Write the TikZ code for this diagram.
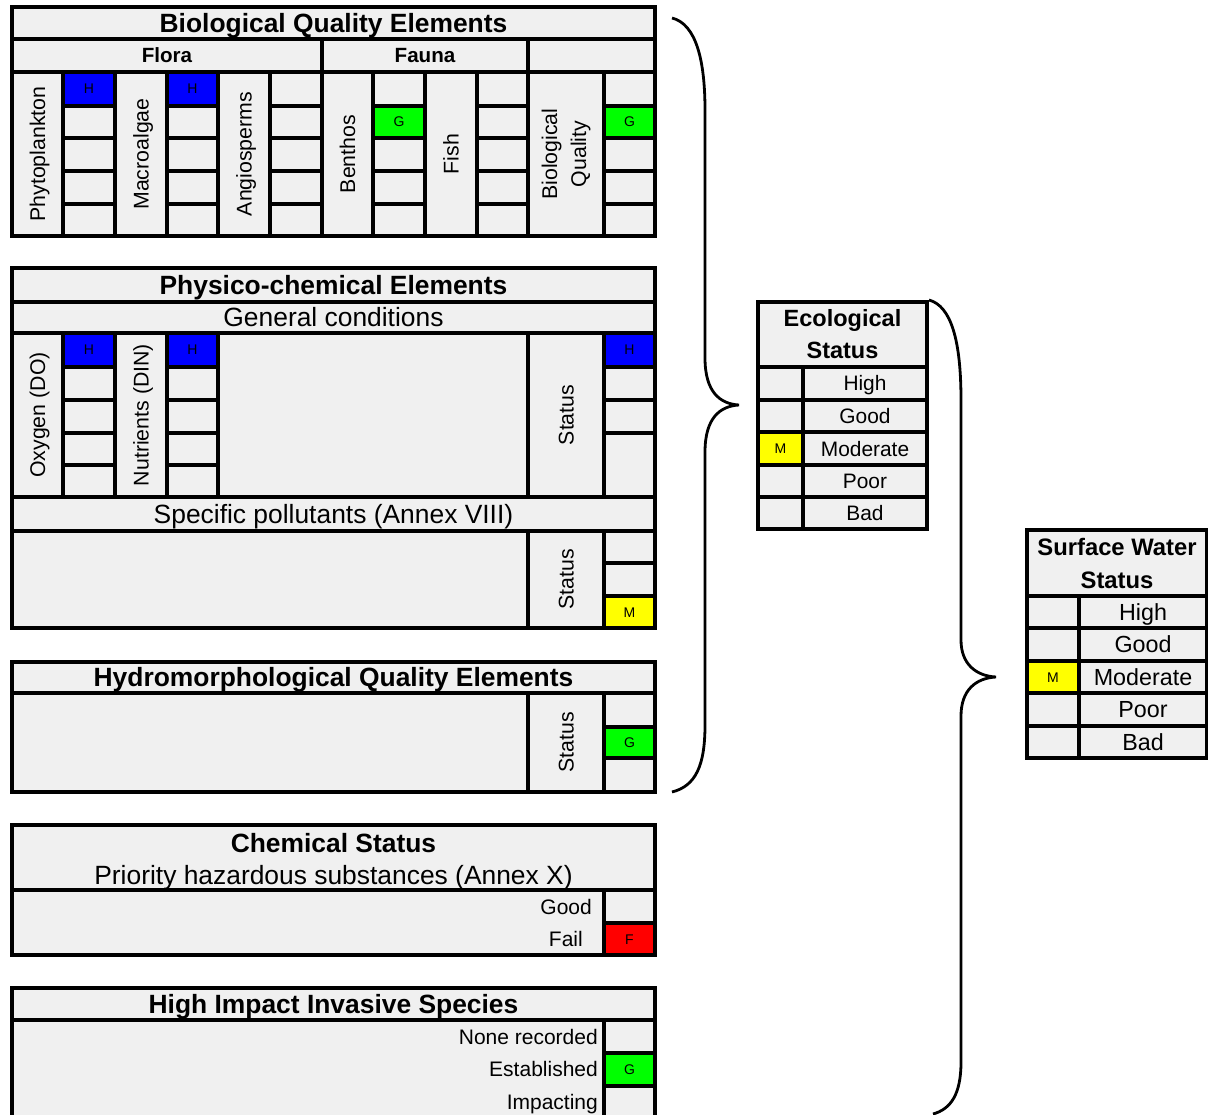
\documentclass[tikz,border=0pt]{standalone}
\usepackage{fontspec}
\setmainfont{Liberation Sans}
\definecolor{cg}{HTML}{F0F0F0}
\definecolor{hblue}{HTML}{0000FF}
\definecolor{ggreen}{HTML}{00FF00}
\definecolor{myellow}{HTML}{FFFF00}
\definecolor{fred}{HTML}{FF0000}
\newcommand\mkcell[7]{\node[cell,minimum width={(#4)-(#2)},minimum height={(#5)-(#3)},#6] (#1) at ({((#2)+(#4))/2},{((#3)+(#5))/2}) {#7};}
\newcommand\mkrcell[7]{\node[cell,rotate=90,minimum width={(#5)-(#3)},minimum height={(#4)-(#2)},#6] (#1) at ({((#2)+(#4))/2},{((#3)+(#5))/2}) {#7};}
\tikzset{
  cell/.style={draw=black, line width=3.1pt, fill=cg, inner sep=0pt, outer sep=0pt},
  ttl/.style={font=\bfseries\fontsize{26.4}{30}\selectfont, text height=18.9pt, text depth=0pt},
  sub/.style={font=\fontsize{26.4}{30}\selectfont, text height=18.9pt, text depth=0pt},
  hdr/.style={font=\bfseries\fontsize{20.6}{24}\selectfont, text height=14.7pt, text depth=0pt},
  rot/.style={font=\fontsize{21.3}{29}\selectfont, text height=15.2pt, text depth=0pt},
  rottwo/.style={font=\fontsize{21.3}{29}\selectfont, align=center},
  lbl/.style={font=\fontsize{21}{24}\selectfont, text height=15pt, text depth=0pt, inner sep=0pt},
  lt/.style={font=\fontsize{14}{15}\selectfont, text height=10pt, text depth=0pt},
  hc/.style={fill=hblue, lt},
  gc/.style={fill=ggreen, lt},
  mc/.style={fill=myellow, lt},
  fc/.style={fill=fred, lt},
  ecottl/.style={font=\bfseries\fontsize{23.5}{32}\selectfont, align=center},
  ecorow/.style={font=\fontsize{20.9}{24}\selectfont, text height=15pt, text depth=0pt},
  swttl/.style={font=\bfseries\fontsize{23.8}{33}\selectfont, align=center},
  swrow/.style={font=\fontsize{23.3}{26}\selectfont, text height=16.7pt, text depth=0pt},
  brc/.style={draw=black, line width=2.8pt}
}
\begin{document}
\begin{tikzpicture}[x=1pt,y=-1pt]
\useasboundingbox (0,0) rectangle (1208,1115);
% ---------------- Biological Quality Elements ----------------
\mkcell{bqe}{12}{7}{655}{39}{ttl}{Biological Quality Elements}
\mkcell{flora}{12}{39}{322}{72}{hdr}{Flora}
\mkcell{fauna}{322}{39}{528}{72}{hdr}{Fauna}
\mkcell{bqhb}{528}{39}{655}{72}{}{}
\mkrcell{phyto}{12}{72}{63}{236}{rot}{Phytoplankton}
\mkrcell{macro}{115}{72}{167}{236}{rot}{Macroalgae}
\mkrcell{angio}{218}{72}{270}{236}{rot}{Angiosperms}
\mkrcell{benth}{322}{72}{373}{236}{rot}{Benthos}
\mkrcell{fish}{425}{72}{477}{236}{rot}{Fish}
\mkrcell{bioq}{528}{72}{604}{236}{rottwo}{Biological\\Quality}
% phytoplankton values
\mkcell{pa1}{63}{72}{115}{106}{hc}{H}
\mkcell{pa2}{63}{106}{115}{138}{}{}
\mkcell{pa3}{63}{138}{115}{171}{}{}
\mkcell{pa4}{63}{171}{115}{204}{}{}
\mkcell{pa5}{63}{204}{115}{236}{}{}
% macroalgae values
\mkcell{ma1}{167}{72}{218}{106}{hc}{H}
\mkcell{ma2}{167}{106}{218}{138}{}{}
\mkcell{ma3}{167}{138}{218}{171}{}{}
\mkcell{ma4}{167}{171}{218}{204}{}{}
\mkcell{ma5}{167}{204}{218}{236}{}{}
% angiosperms values
\mkcell{an1}{270}{72}{322}{106}{}{}
\mkcell{an2}{270}{106}{322}{138}{}{}
\mkcell{an3}{270}{138}{322}{171}{}{}
\mkcell{an4}{270}{171}{322}{204}{}{}
\mkcell{an5}{270}{204}{322}{236}{}{}
% benthos values
\mkcell{be1}{373}{72}{425}{106}{}{}
\mkcell{be2}{373}{106}{425}{138}{gc}{G}
\mkcell{be3}{373}{138}{425}{171}{}{}
\mkcell{be4}{373}{171}{425}{204}{}{}
\mkcell{be5}{373}{204}{425}{236}{}{}
% fish values
\mkcell{fi1}{477}{72}{528}{106}{}{}
\mkcell{fi2}{477}{106}{528}{138}{}{}
\mkcell{fi3}{477}{138}{528}{171}{}{}
\mkcell{fi4}{477}{171}{528}{204}{}{}
\mkcell{fi5}{477}{204}{528}{236}{}{}
% biological quality values
\mkcell{bq1}{604}{72}{655}{106}{}{}
\mkcell{bq2}{604}{106}{655}{138}{gc}{G}
\mkcell{bq3}{604}{138}{655}{171}{}{}
\mkcell{bq4}{604}{171}{655}{204}{}{}
\mkcell{bq5}{604}{204}{655}{236}{}{}
% ---------------- Physico-chemical Elements ----------------
\mkcell{pce}{12}{268}{655}{302}{ttl}{Physico-chemical Elements}
\mkcell{gencond}{12}{302}{655}{333}{sub}{General conditions}
\mkrcell{oxy}{12}{333}{63}{497}{rot}{Oxygen (DO)}
\mkrcell{nutr}{115}{333}{167}{497}{rot}{Nutrients (DIN)}
\mkcell{gcblank}{218}{333}{528}{497}{}{}
\mkrcell{gcstat}{528}{333}{604}{497}{rot}{Status}
\mkcell{ox1}{63}{333}{115}{367}{hc}{H}
\mkcell{ox2}{63}{367}{115}{400}{}{}
\mkcell{ox3}{63}{400}{115}{433}{}{}
\mkcell{ox4}{63}{433}{115}{465}{}{}
\mkcell{ox5}{63}{465}{115}{497}{}{}
\mkcell{nu1}{167}{333}{218}{367}{hc}{H}
\mkcell{nu2}{167}{367}{218}{400}{}{}
\mkcell{nu3}{167}{400}{218}{433}{}{}
\mkcell{nu4}{167}{433}{218}{465}{}{}
\mkcell{nu5}{167}{465}{218}{497}{}{}
\mkcell{gs1}{604}{333}{655}{367}{hc}{H}
\mkcell{gs2}{604}{367}{655}{400}{}{}
\mkcell{gs3}{604}{400}{655}{433}{}{}
\mkcell{gs4}{604}{433}{655}{497}{}{}
\mkcell{specpol}{12}{497}{655}{531}{sub}{Specific pollutants (Annex VIII)}
\mkcell{spblank}{12}{531}{528}{628}{}{}
\mkrcell{spstat}{528}{531}{604}{628}{rot}{Status}
\mkcell{sp1}{604}{531}{655}{563}{}{}
\mkcell{sp2}{604}{563}{655}{596}{}{}
\mkcell{sp3}{604}{596}{655}{628}{mc}{M}
% ---------------- Hydromorphological ----------------
\mkcell{hqe}{12}{662}{655}{693}{ttl}{Hydromorphological Quality Elements}
\mkcell{hyblank}{12}{693}{528}{792}{}{}
\mkrcell{hystat}{528}{693}{604}{792}{rot}{Status}
\mkcell{hy1}{604}{693}{655}{727}{}{}
\mkcell{hy2}{604}{727}{655}{758}{gc}{G}
\mkcell{hy3}{604}{758}{655}{792}{}{}
% ---------------- Chemical Status ----------------
\mkcell{chem}{12}{825}{655}{890}{}{}
\node[ttl, inner sep=0pt] (chemt) at (333.5,843) {Chemical Status};
\node[sub, inner sep=0pt] (chems) at (333.5,875) {Priority hazardous substances (Annex X)};
\mkcell{chblank}{12}{890}{604}{955}{}{}
\node[lbl, anchor=east] (good) at (592,907) {Good};
\node[lbl, anchor=east] (fail) at (583,939) {Fail};
\mkcell{ch1}{604}{890}{655}{923}{}{}
\mkcell{ch2}{604}{923}{655}{955}{fc}{F}
% ---------------- High Impact Invasive Species ----------------
\mkcell{hiis}{12}{988}{655}{1020}{ttl}{High Impact Invasive Species}
\mkcell{inblank}{12}{1020}{604}{1119}{}{}
\node[lbl, anchor=east] (none) at (598,1037) {None recorded};
\node[lbl, anchor=east] (estab) at (598,1069) {Established};
\node[lbl, anchor=east] (impac) at (598,1102) {Impacting};
\mkcell{in1}{604}{1020}{655}{1053}{}{}
\mkcell{in2}{604}{1053}{655}{1086}{gc}{G}
\mkcell{in3}{604}{1086}{655}{1119}{}{}
% ---------------- Ecological Status ----------------
\mkcell{eco}{758}{302}{927}{367}{ecottl}{Ecological\\Status}
\mkcell{ecl1}{758}{367}{803}{400}{}{}
\mkcell{ecl2}{758}{400}{803}{432}{}{}
\mkcell{ecl3}{758}{432}{803}{465}{mc}{M}
\mkcell{ecl4}{758}{465}{803}{497}{}{}
\mkcell{ecl5}{758}{497}{803}{529}{}{}
\mkcell{ecr1}{803}{367}{927}{400}{ecorow}{High}
\mkcell{ecr2}{803}{400}{927}{432}{ecorow}{Good}
\mkcell{ecr3}{803}{432}{927}{465}{ecorow}{Moderate}
\mkcell{ecr4}{803}{465}{927}{497}{ecorow}{Poor}
\mkcell{ecr5}{803}{497}{927}{529}{ecorow}{Bad}
% ---------------- Surface Water Status ----------------
\mkcell{sws}{1027}{530}{1207}{596}{swttl}{Surface Water\\Status}
\mkcell{swl1}{1027}{596}{1079}{628}{}{}
\mkcell{swl2}{1027}{628}{1079}{661}{}{}
\mkcell{swl3}{1027}{661}{1079}{693}{mc}{M}
\mkcell{swl4}{1027}{693}{1079}{726}{}{}
\mkcell{swl5}{1027}{726}{1079}{758}{}{}
\mkcell{swr1}{1079}{596}{1207}{628}{swrow}{High}
\mkcell{swr2}{1079}{628}{1207}{661}{swrow}{Good}
\mkcell{swr3}{1079}{661}{1207}{693}{swrow}{Moderate}
\mkcell{swr4}{1079}{693}{1207}{726}{swrow}{Poor}
\mkcell{swr5}{1079}{726}{1207}{758}{swrow}{Bad}
% ---------------- Braces ----------------
\draw[brc] (672,18) .. controls (696,24) and (705,60) .. (705,110)
  -- (705,358) .. controls (705,392) and (720,404) .. (739,405)
  .. controls (720,406) and (705,418) .. (705,452)
  -- (705,725) .. controls (705,765) and (696,786) .. (672,792);
\draw[brc] (929,300) .. controls (951,306) and (961,340) .. (961,400)
  -- (961,640) .. controls (961,664) and (976,676) .. (996,677)
  .. controls (976,678) and (961,690) .. (961,716)
  -- (961,1062) .. controls (961,1094) and (951,1109) .. (933,1114);
\end{tikzpicture}
\end{document}
